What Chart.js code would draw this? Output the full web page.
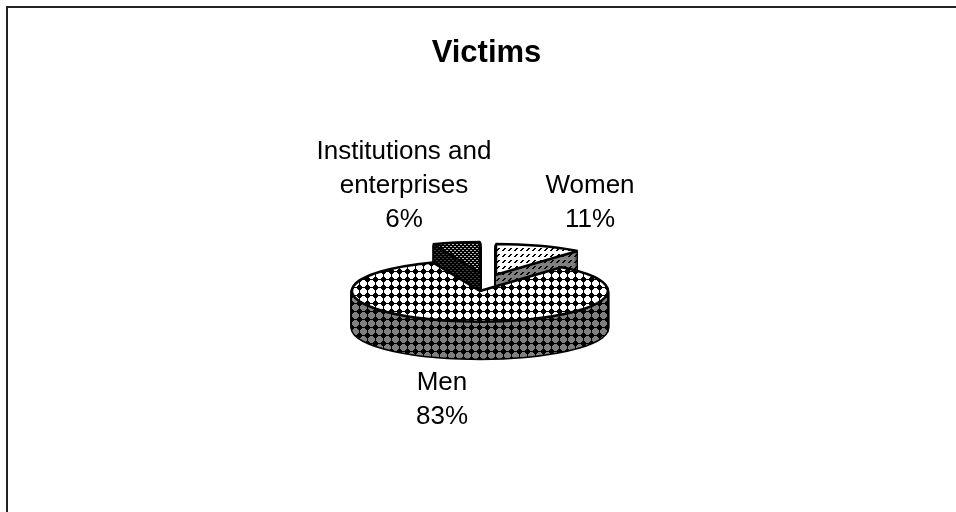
<!DOCTYPE html>
<html>
<head>
<meta charset="utf-8">
<title>Victims</title>
<script src="https://cdn.jsdelivr.net/npm/chart.js@4"></script>
<style>
  html, body { margin: 0; padding: 0; background: #fff; overflow: hidden; width: 956px; height: 512px; }
  #box { position: absolute; left: 6px; top: 6px; width: 960px; height: 520px; border-left: 2px solid #222; border-top: 2px solid #222; }
</style>
</head>
<body>
<div id="box"><canvas id="pie" width="960" height="520"></canvas></div>
<script>
const sliceNames = ["Women", "Men", "Institutions and enterprises"];
const sliceValues = [11, 83, 6];
const labelLines = [["Women"], ["Men"], ["Institutions and", "enterprises"]];

// pie look: flattening of the disc, wall height, exploded distance per slice
const squash = 0.24;
const depth = 37;
const explode = [28, 42, 35];
const pieMiddleY = 273;

// first baseline of each label and its centre, in canvas pixels
const labelX = [582, 434, 396];
const labelY = [185, 382, 151];
const lineGap = 34;

// 1 = ink, 0 = paper
const diamondTile = [
  "00111000",
  "01111100",
  "11111110",
  "11111110",
  "11111110",
  "01111100",
  "00111000",
  "00000000"
];
const dotTile = [
  "1100",
  "0000",
  "0011",
  "0000"
];
const hatchTile = [
  "000011",
  "000110",
  "001100",
  "000000",
  "000000",
  "000000"
];

function makePattern(tile, ink, paper) {
  const c = document.createElement("canvas");
  c.width = tile[0].length;
  c.height = tile.length;
  const g = c.getContext("2d");
  tile.forEach((row, y) => {
    [...row].forEach((cell, x) => {
      g.fillStyle = cell === "1" ? ink : paper;
      g.fillRect(x, y, 1, 1);
    });
  });
  return g.createPattern(c, "repeat");
}

const topFills = [
  makePattern(hatchTile, "#000", "#fff"),
  makePattern(diamondTile, "#fff", "#000"),
  makePattern(dotTile, "#bbb", "#000")
];
const sideFills = [
  makePattern(hatchTile, "#000", "#808080"),
  makePattern(diamondTile, "#808080", "#000"),
  makePattern(dotTile, "#444", "#000")
];

// arcs build their path under the squashed transform, but fill and stroke
// run with a plain one so lines and patterns stay undistorted
function withFlatPaint(ctx, fn) {
  const proto = CanvasRenderingContext2D.prototype;
  const flat = name => function () {
    ctx.save();
    ctx.setTransform(1, 0, 0, 1, 0, 0);
    proto[name].apply(ctx, arguments);
    ctx.restore();
  };
  ctx.fill = flat("fill");
  ctx.stroke = flat("stroke");
  fn();
  delete ctx.fill;
  delete ctx.stroke;
}

function drawArc(arc, ctx, over) {
  const saved = arc.options;
  arc.options = Object.assign({}, saved, over);
  arc.draw(ctx);
  arc.options = saved;
}

const tiltedPie = {
  id: "tiltedPie",
  beforeDatasetsDraw(chart) {
    const ctx = chart.ctx;
    const arcs = chart.getDatasetMeta(0).data;
    const cy = arcs[0].y;
    ctx.save();
    withFlatPaint(ctx, () => {
      // back slices first so the big slice covers them
      [2, 0, 1].forEach(i => {
        const arc = arcs[i];
        const mid = (arc.startAngle + arc.endAngle) / 2;
        const dx = Math.cos(mid) * explode[i];
        const dy = Math.sin(mid) * explode[i] * squash;
        const place = d => {
          ctx.setTransform(1, 0, 0, squash, dx, pieMiddleY + dy + d - cy * squash);
        };
        for (let d = depth; d > 0; d--) {
          place(d);
          drawArc(arc, ctx, { backgroundColor: "transparent", borderColor: "#000", borderWidth: 3 });
        }
        for (let d = depth; d > 0; d--) {
          place(d);
          drawArc(arc, ctx, { backgroundColor: sideFills[i], borderWidth: 0 });
        }
        place(0);
        drawArc(arc, ctx, { backgroundColor: topFills[i], borderColor: "#000", borderWidth: 2.5 });
      });
    });
    ctx.restore();
    return false;
  },
  afterDraw(chart) {
    const ctx = chart.ctx;
    ctx.save();
    ctx.fillStyle = "#000";
    ctx.font = "26px 'Liberation Sans', Arial, sans-serif";
    ctx.textAlign = "center";
    ctx.textBaseline = "alphabetic";
    const total = sliceValues.reduce((a, b) => a + b, 0);
    sliceNames.forEach((name, i) => {
      const lines = labelLines[i].concat(Math.round(sliceValues[i] / total * 100) + "%");
      lines.forEach((line, k) => {
        ctx.fillText(line, labelX[i], labelY[i] + k * lineGap);
      });
    });
    ctx.restore();
  }
};

new Chart(document.getElementById("pie"), {
  type: "pie",
  data: {
    labels: sliceNames,
    datasets: [{
      data: sliceValues,
      offset: 0,
      backgroundColor: topFills,
      borderColor: "#000"
    }]
  },
  options: {
    responsive: false,
    animation: false,
    radius: 128,
    layout: { padding: { right: 3 } },
    plugins: {
      legend: { display: false },
      tooltip: { enabled: false },
      title: {
        display: true,
        text: "Victims",
        color: "#000",
        font: { family: "'Liberation Sans', Arial, sans-serif", size: 31, weight: "bold" },
        padding: { top: 27, bottom: 10 }
      }
    }
  },
  plugins: [tiltedPie]
});
</script>
</body>
</html>
